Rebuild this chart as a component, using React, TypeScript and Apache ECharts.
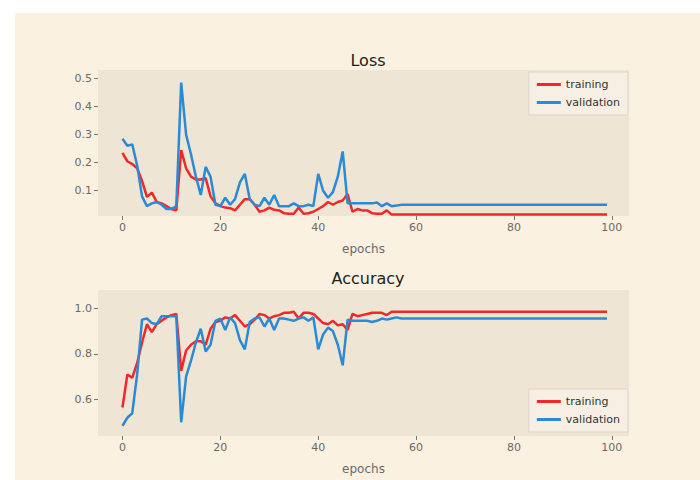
import React, { useEffect, useRef } from "react";
import * as echarts from "echarts";

const epochs: number[] = Array.from({ length: 100 }, (_, i) => i);

const lossTrainHead = [
  0.235, 0.205, 0.195, 0.18, 0.135, 0.078, 0.093, 0.06, 0.055, 0.045,
  0.035, 0.03, 0.245, 0.18, 0.15, 0.14, 0.14, 0.145, 0.08, 0.055,
  0.045, 0.04, 0.038, 0.03, 0.05, 0.07, 0.07, 0.05, 0.025, 0.03,
  0.04, 0.032, 0.03, 0.02, 0.018, 0.018, 0.04, 0.018, 0.02, 0.025,
  0.035, 0.045, 0.06, 0.05, 0.06, 0.065, 0.088, 0.025, 0.035, 0.03,
  0.03, 0.02, 0.018, 0.018, 0.03, 0.015,
];
const lossTrainTailValue = 0.015;

const lossValHead = [
  0.285, 0.26, 0.265, 0.19, 0.08, 0.045, 0.055, 0.06, 0.05, 0.035,
  0.035, 0.045, 0.485, 0.3, 0.23, 0.15, 0.085, 0.185, 0.15, 0.05,
  0.045, 0.075, 0.05, 0.07, 0.13, 0.16, 0.07, 0.05, 0.045, 0.075,
  0.05, 0.085, 0.045, 0.045, 0.045, 0.055, 0.045, 0.045, 0.05, 0.045,
  0.16, 0.1, 0.075, 0.095, 0.15, 0.24, 0.055, 0.055, 0.055, 0.055,
  0.055, 0.055, 0.058, 0.045, 0.055, 0.045, 0.047,
];
const lossValTailValue = 0.05;

const accTrainHead = [
  0.565, 0.71, 0.695, 0.76, 0.85, 0.93, 0.895, 0.93, 0.945, 0.96,
  0.97, 0.975, 0.725, 0.815, 0.84, 0.855, 0.855, 0.84, 0.91, 0.94,
  0.945, 0.96, 0.955, 0.97, 0.945, 0.92, 0.93, 0.95, 0.975, 0.97,
  0.955, 0.965, 0.97, 0.98, 0.98, 0.985, 0.955, 0.98, 0.98, 0.975,
  0.955, 0.935, 0.93, 0.945, 0.925, 0.93, 0.905, 0.975, 0.965, 0.97,
  0.975, 0.98, 0.98, 0.98, 0.97, 0.985,
];
const accTrainTailValue = 0.985;

const accValHead = [
  0.485, 0.52, 0.54, 0.71, 0.95, 0.955, 0.935, 0.93, 0.965, 0.965,
  0.965, 0.965, 0.5, 0.7, 0.77, 0.85, 0.91, 0.81, 0.84, 0.945,
  0.955, 0.905, 0.96, 0.935, 0.86, 0.82, 0.94, 0.955, 0.96, 0.92,
  0.955, 0.905, 0.955, 0.955, 0.95, 0.945, 0.955, 0.96, 0.945, 0.96,
  0.82, 0.885, 0.915, 0.9, 0.84, 0.75, 0.95, 0.945, 0.945, 0.945,
  0.945, 0.94, 0.945, 0.955, 0.95, 0.955, 0.96,
];
const accValTailValue = 0.955;

const xTicks = [0, 20, 40, 60, 80, 100];
const lossTicks = [0.1, 0.2, 0.3, 0.4, 0.5];
const accTicks = [0.6, 0.8, 1.0];

function fill(head: number[], tail: number): number[][] {
  return epochs.map((e) => [e, e < head.length ? head[e] : tail]);
}

const RED = "#f02828";
const BLUE = "#2a8ad6";

export default function App() {
  const ref = useRef<HTMLDivElement>(null);
  useEffect(() => {
    document.body.style.margin = "0";
    const chart = echarts.init(ref.current!, undefined, { renderer: "svg" });
    const axisLabelStyle = { color: "#6a6a6a", fontSize: 11, fontFamily: "DejaVu Sans" };
    const xAxisBase = (gridIndex: number) => ({
      type: "value" as const,
      gridIndex,
      min: -5,
      max: 103.5,
      name: "epochs",
      nameLocation: "middle" as const,
      nameGap: 27,
      nameTextStyle: { color: "#6a6a6a", fontSize: 12, fontFamily: "DejaVu Sans" },
      axisLine: { show: false, onZero: false },
      splitLine: { show: false },
      axisTick: { show: true, length: 4, lineStyle: { color: "#777" }, customValues: xTicks },
      axisLabel: { ...axisLabelStyle, margin: 6, customValues: xTicks },
    });
    const yAxisBase = (gridIndex: number, min: number, max: number, ticks: number[]) => ({
      type: "value" as const,
      gridIndex,
      min,
      max,
      axisLine: { show: false, onZero: false },
      splitLine: { show: false },
      axisTick: { show: true, length: 4, lineStyle: { color: "#777" }, customValues: ticks },
      axisLabel: {
        ...axisLabelStyle,
        margin: 6,
        customValues: ticks,
        formatter: (v: number) => v.toFixed(1),
      },
    });
    const lineSeries = (name: string, color: string, data: number[][], idx: number) => ({
      type: "line" as const,
      name,
      xAxisIndex: idx,
      yAxisIndex: idx,
      data,
      showSymbol: false,
      symbol: "none",
      lineStyle: { color, width: 2.5 },
      itemStyle: { color },
    });
    const legendBase = {
      orient: "vertical" as const,
      right: 72,
      itemWidth: 24,
      itemHeight: 3,
      itemGap: 7,
      icon: "rect",
      backgroundColor: "rgba(248,241,230,0.85)",
      borderColor: "#ddd5c8",
      borderWidth: 1,
      padding: [7, 8, 7, 8],
      textStyle: { color: "#333", fontSize: 11, fontFamily: "DejaVu Sans" },
      data: ["training", "validation"],
    };
    chart.setOption({
      animation: false,
      backgroundColor: "#ffffff",
      graphic: [
        {
          type: "rect",
          z: -10,
          silent: true,
          shape: { x: 15, y: 13, width: 685, height: 467 },
          style: { fill: "#faf1e1" },
        },
      ],
      title: [
        {
          text: "Loss",
          left: 363,
          top: 47,
          textAlign: "center",
          textStyle: { color: "#222", fontSize: 16, fontWeight: "normal", fontFamily: "DejaVu Sans" },
        },
        {
          text: "Accuracy",
          left: 363,
          top: 265,
          textAlign: "center",
          textStyle: { color: "#222", fontSize: 16, fontWeight: "normal", fontFamily: "DejaVu Sans" },
        },
      ],
      legend: [
        { ...legendBase, top: 72 },
        { ...legendBase, top: 389 },
      ],
      grid: [
        { left: 98, right: 71, top: 70, height: 146, show: true, backgroundColor: "#efe5d5", borderWidth: 0 },
        { left: 98, right: 71, top: 290, height: 146, show: true, backgroundColor: "#efe5d5", borderWidth: 0 },
      ],
      xAxis: [xAxisBase(0), xAxisBase(1)],
      yAxis: [yAxisBase(0, 0.01, 0.53, lossTicks), yAxisBase(1, 0.44, 1.08, accTicks)],
      series: [
        lineSeries("training", RED, fill(lossTrainHead, lossTrainTailValue), 0),
        lineSeries("validation", BLUE, fill(lossValHead, lossValTailValue), 0),
        lineSeries("training", RED, fill(accTrainHead, accTrainTailValue), 1),
        lineSeries("validation", BLUE, fill(accValHead, accValTailValue), 1),
      ],
    });
    return () => chart.dispose();
  }, []);
  return (
    <div
      ref={ref}
      style={{ position: "absolute", left: 0, top: 0, width: 700, height: 480 }}
    />
  );
}
